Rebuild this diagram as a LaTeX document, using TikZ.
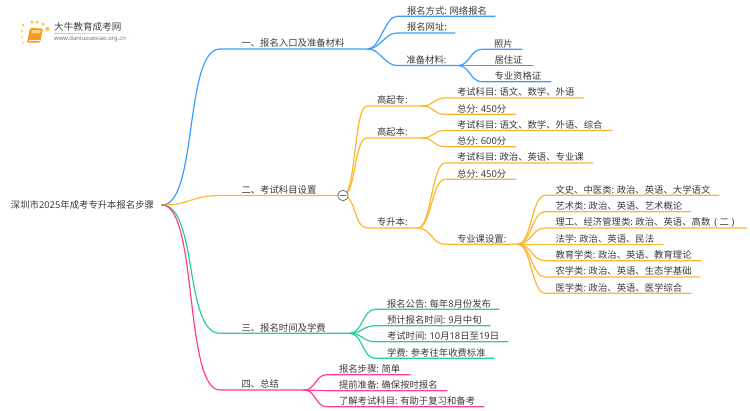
\documentclass[tikz,border=0pt]{standalone}
\usepackage{fontspec}
\setmainfont{Noto Sans CJK SC}
\newfontfamily\latfont{Noto Sans}
\newcommand{\lat}[1]{{\latfont #1}}
\newcommand{\cl}{\lat{:}\hspace{2.6pt}}
\usetikzlibrary{calc}
\definecolor{cblue}{HTML}{3B9DFF}
\definecolor{corange}{HTML}{FDB62F}
\definecolor{cgreen}{HTML}{2AD08F}
\definecolor{cpink}{HTML}{FF3D94}
\definecolor{ctext}{HTML}{3A3A3A}
\definecolor{clogo}{HTML}{F79A1E}
\definecolor{cdot}{HTML}{FBC654}
\tikzset{
  lab/.style 2 args={anchor=south west,inner xsep=0pt,inner ysep=0pt,outer sep=0pt,text width=#1,
    align=flush left,execute at begin node={\hspace*{#2}},
    text height=9pt,text depth=2.2pt,text=ctext,font=\fontsize{9.36}{11}\selectfont},
  rootlab/.style={anchor=west,inner xsep=0pt,inner ysep=0pt,outer sep=0pt,minimum width=#1,
    text=ctext,font=\fontsize{9.36}{11}\selectfont},
  sbend/.style={out=0,in=180,out distance=#1,in distance=#1},
  conn/.style={line width=1.2pt,line cap=round,line join=round},
  cb/.style={conn,cblue},
  co/.style={conn,corange},
  cg/.style={conn,cgreen},
  cp/.style={conn,cpink},
  toggle/.style={circle,draw=black!55,fill=white,line width=0.8pt,minimum size=10.5pt,inner sep=0pt},
  dotmark/.style={circle,fill=cdot,inner sep=0pt,minimum size=#1},
  brand/.style={anchor=west,inner sep=0pt,text=black!75,font=\fontsize{9.6}{11}\selectfont},
  brandurl/.style={anchor=west,inner sep=0pt,text=black!55,font=\fontsize{5.9}{7}\latfont},
}
\begin{document}
\begin{tikzpicture}[x=1pt,y=-1pt]
\useasboundingbox (0,0) rectangle (750,410);
% logo
\node[dotmark=3pt] (d1) at (23,25) {};
\node[dotmark=3.5pt] (d2) at (32,22) {};
\node[dotmark=3.5pt] (d3) at (37,22) {};
\node[dotmark=3.5pt] (d4) at (43,24) {};
\node[dotmark=4.5pt] (d5) at (47.5,29) {};
\node[dotmark=2.5pt] (d6) at (22,31) {};
\node[dotmark=2pt] (d7) at (22,37) {};
\node[dotmark=2pt] (d8) at (23.5,42.5) {};
\fill[clogo,rounded corners=1.2pt] (30,28) -- (43,28.5) -- (40,42.5) -- (27,42.5) -- cycle;
\fill[cdot!70!white,rounded corners=0.8pt] (32,30) -- (41,30.3) -- (40,33.5) -- (31,33.2) -- cycle;
\draw[white,line width=0.5pt] (28.6,39.8) -- (39.5,39.8);
\node[brand] (b1) at (54,27) {大牛教育成考网};
\node[brandurl] (b2) at (54,38.5) {www.daniuxuexiao.org.cn};
\shade[left color=black!25,right color=white] (54,33) rectangle (133,33.5);

% root
\node[rootlab=159pt] (root) at (3,205) {深圳市\lat{2025}年成考专升本报名步骤};

% branch 1
\node[lab={148pt}{21.5pt}] (a) at (220,49) {一、报名入口及准备材料};
\node[lab={98pt}{10pt}] (a1) at (397,16.3) {报名方式\cl 网络报名};
\node[lab={58pt}{10pt}] (a2) at (397,33) {报名网址\lat{:}};
\node[lab={61pt}{9.5pt}] (a3) at (397,65.5) {准备材料\lat{:}};
\node[lab={40pt}{12pt}] (a31) at (482,49.3) {照片};
\node[lab={51pt}{12.5pt}] (a32) at (482,65.5) {居住证};
\node[lab={69pt}{12.5pt}] (a33) at (482,81.7) {专业资格证};
\draw[cb] (root.east) to[sbend=36pt] (a.south west) -- (a.south east);
\draw[cb] (a.south east) to[sbend=12pt] (a1.south west) -- (a1.south east);
\draw[cb] (a.south east) to[sbend=12pt] (a2.south west) -- (a2.south east);
\draw[cb] (a.south east) to[sbend=12pt] (a3.south west) -- (a3.south east);
\draw[cb] (a3.south east) to[sbend=12pt] (a31.south west) -- (a31.south east);
\draw[cb] (a3.south east) -- (a32.south west) -- (a32.south east);
\draw[cb] (a3.south east) to[sbend=12pt] (a33.south west) -- (a33.south east);

% branch 2
\node[lab={123pt}{21.5pt}] (b) at (220,195.5) {二、考试科目设置};
\node[lab={55pt}{10pt}] (b1n) at (367,106) {高起专\lat{:}};
\node[lab={55pt}{10pt}] (b2n) at (367,138) {高起本\lat{:}};
\node[lab={51pt}{10pt}] (b3n) at (367,228) {专升本\lat{:}};
\node[lab={139pt}{12pt}] (b11) at (445,98) {考试科目\cl 语文、数学、外语};
\node[lab={71pt}{12pt}] (b12) at (445,114.3) {总分\cl\lat{450}分};
\node[lab={167pt}{12pt}] (b21) at (445,130.5) {考试科目\cl 语文、数学、外语、综合};
\node[lab={71pt}{12pt}] (b22) at (445,146.7) {总分\cl\lat{600}分};
\node[lab={148pt}{12pt}] (b31) at (445,163) {考试科目\cl 政治、英语、专业课};
\node[lab={71pt}{12pt}] (b32) at (445,179.3) {总分\cl\lat{450}分};
\node[lab={73pt}{12pt}] (b33) at (445,244.3) {专业课设置\lat{:}};
\node[lab={174pt}{10.5pt}] (c1) at (545,195.3) {文史、中医类\cl 政治、英语、大学语文};
\node[lab={146pt}{10.5pt}] (c2) at (545,211.7) {艺术类\cl 政治、英语、艺术概论};
\node[lab={202pt}{10.5pt}] (c3) at (545,228) {理工、经济管理类\cl 政治、英语、高数\hspace{4pt}\lat{(}\hspace{2.5pt}二\hspace{2.5pt}\lat{)}};
\node[lab={118pt}{10.5pt}] (c4) at (545,244.3) {法学\cl 政治、英语、民法};
\node[lab={156pt}{10.5pt}] (c5) at (545,260.7) {教育学类\cl 政治、英语、教育理论};
\node[lab={155pt}{10.5pt}] (c6) at (545,277) {农学类\cl 政治、英语、生态学基础};
\node[lab={146pt}{10.5pt}] (c7) at (545,293.3) {医学类\cl 政治、英语、医学综合};
\draw[co] (root.east) to[sbend=28pt] (b.south west) -- (b.south east);
\draw[co] (b.south east) to[sbend=13pt] (b1n.south west) -- (b1n.south east);
\draw[co] (b.south east) to[sbend=13pt] (b2n.south west) -- (b2n.south east);
\draw[co] (b.south east) to[sbend=13pt] (b3n.south west) -- (b3n.south east);
\draw[co] (b1n.south east) to[sbend=12pt] (b11.south west) -- (b11.south east);
\draw[co] (b1n.south east) to[sbend=12pt] (b12.south west) -- (b12.south east);
\draw[co] (b2n.south east) to[sbend=12pt] (b21.south west) -- (b21.south east);
\draw[co] (b2n.south east) to[sbend=12pt] (b22.south west) -- (b22.south east);
\draw[co] (b3n.south east) to[sbend=13pt] (b31.south west) -- (b31.south east);
\draw[co] (b3n.south east) to[sbend=13pt] (b32.south west) -- (b32.south east);
\draw[co] (b3n.south east) to[sbend=13pt] (b33.south west) -- (b33.south east);
\foreach \k in {1,2,3,5,6,7}{
  \draw[co] (b33.south east) to[sbend=13pt] (c\k.south west) -- (c\k.south east);
}
\draw[co] (b33.south east) -- (c4.south west) -- (c4.south east);
\node[toggle] (tog) at (343,195.5) {};
\draw[black!60,line width=0.8pt] ($(tog.center)+(-3,0)$) -- ($(tog.center)+(3,0)$);

% branch 3
\node[lab={130pt}{21.5pt}] (g) at (220,333.3) {三、报名时间及学费};
\node[lab={124pt}{12pt}] (g1) at (375,309.3) {报名公告\cl 每年\lat{8}月份发布};
\node[lab={115pt}{12pt}] (g2) at (375,325.7) {预计报名时间\cl\lat{9}月中旬};
\node[lab={133pt}{12pt}] (g3) at (375,341.7) {考试时间\cl\lat{10}月\lat{18}日至\lat{19}日};
\node[lab={119pt}{12pt}] (g4) at (375,358.3) {学费\cl 参考往年收费标准};
\draw[cg] (root.east) to[sbend=36pt] (g.south west) -- (g.south east);
\foreach \k in {1,2,3,4}{
  \draw[cg] (g.south east) to[sbend=12pt] (g\k.south west) -- (g\k.south east);
}

% branch 4
\node[lab={84pt}{21.5pt}] (p) at (220,390) {四、总结};
\node[lab={83pt}{12pt}] (p1) at (327,374.7) {报名步骤\cl 简单};
\node[lab={120pt}{12pt}] (p2) at (327,390.7) {提前准备\cl 确保按时报名};
\node[lab={157pt}{12pt}] (p3) at (327,406.7) {了解考试科目\cl 有助于复习和备考};
\draw[cp] (root.east) to[sbend=36pt] (p.south west) -- (p.south east);
\draw[cp] (p.south east) to[sbend=12pt] (p1.south west) -- (p1.south east);
\draw[cp] (p.south east) -- (p2.south west) -- (p2.south east);
\draw[cp] (p.south east) to[sbend=12pt] (p3.south west) -- (p3.south east);
\end{tikzpicture}
\end{document}
